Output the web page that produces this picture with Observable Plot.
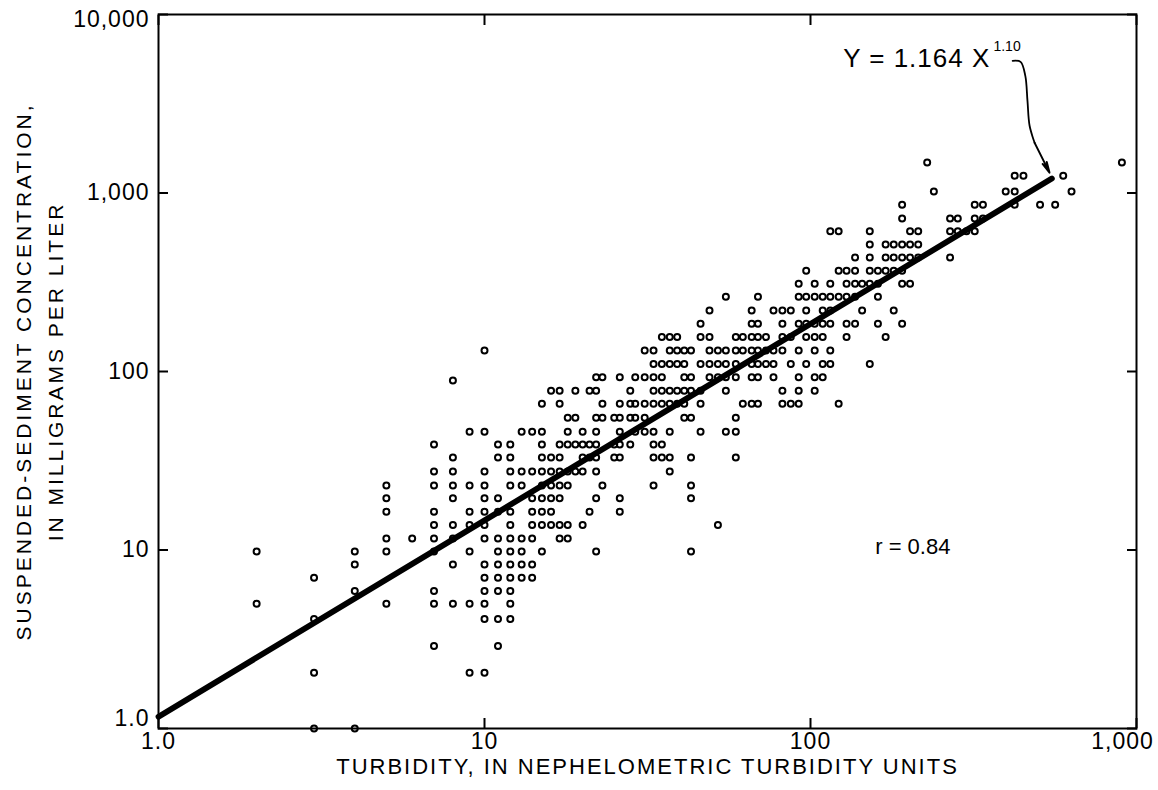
<!DOCTYPE html>
<html>
<head>
<meta charset="utf-8">
<script src="https://cdn.jsdelivr.net/npm/d3@7"></script>
<script src="https://cdn.jsdelivr.net/npm/@observablehq/plot@0.6"></script>
<style>
  html, body { margin: 0; padding: 0; background: #ffffff; }
  #chart svg { display: block; }
</style>
</head>
<body>
<div id="chart"></div>
<script>
// Turbidity columns (NTU) and the suspended-sediment concentrations (mg/L) plotted at each
const turbidityNTU = [2,3,4,5,6,7,8,9,10,11,12,13,14,15,16,17,18,19,20,21,22,23,25,26,28,29,31,33,35,37,39,41,43,46,49,52,55,59,62,66,69,73,77,82,87,92,97,103,109,115,122,129,137,144,152,161,170,180,191,202,214,228,239,268,283,301,319,338,397,423,450,506,563,596,632,902];
const concentrationMgL = [
  [9.8, 5],
  [7, 4.1, 2.05, 1],
  [9.8, 8.3, 5.9, 1],
  [23, 19.5, 16.4, 11.6, 9.8, 5],
  [11.6],
  [39, 27.5, 23, 16.4, 13.8, 11.6, 9.8, 5.9, 5, 2.9],
  [89, 33, 27.5, 23, 19.5, 13.8, 11.6, 8.3, 5],
  [46, 23, 16.4, 13.8, 9.8, 5, 2.05],
  [131, 46, 27.5, 23, 19.5, 16.4, 13.8, 11.6, 8.3, 7, 5.9, 5, 4.1, 2.05],
  [39, 33, 19.5, 16.4, 11.6, 9.8, 8.3, 7, 5.9, 4.1, 2.9],
  [39, 33, 27.5, 23, 16.4, 13.8, 11.6, 9.8, 8.3, 7, 5.9, 5, 4.1],
  [46, 27.5, 23, 11.6, 9.8, 8.3, 7],
  [46, 27.5, 19.5, 16.4, 13.8, 11.6, 8.3, 7],
  [66, 46, 39, 33, 27.5, 23, 19.5, 16.4, 13.8, 9.8],
  [78, 33, 27.5, 23, 19.5, 16.4, 13.8],
  [78, 66, 39, 33, 27.5, 23, 19.5, 13.8, 11.6],
  [55, 46, 39, 27.5, 23, 13.8, 11.6],
  [78, 55, 39, 27.5],
  [46, 39, 33, 27.5, 13.8],
  [78, 39, 33, 16.4],
  [93, 78, 55, 46, 39, 33, 27.5, 19.5, 9.8],
  [93, 66, 55, 23],
  [55, 39, 33],
  [93, 66, 55, 46, 39, 33, 19.5, 16.4],
  [78, 66, 55, 39],
  [93, 66, 55, 46],
  [131, 93, 66, 55, 46],
  [131, 110, 93, 78, 66, 46, 39, 33, 23],
  [156, 110, 93, 78, 66, 39, 33],
  [156, 131, 110, 78, 66, 46, 33, 27.5],
  [156, 131, 110, 78, 66],
  [131, 110, 93, 78, 66, 55],
  [131, 93, 78, 55, 33, 23, 19.5, 9.8],
  [185, 156, 110, 78, 66, 46],
  [220, 156, 131, 110, 93],
  [131, 110, 93, 13.8],
  [262, 131, 110, 93, 78, 46],
  [156, 131, 110, 93, 55, 46, 33],
  [156, 131, 66],
  [220, 185, 156, 131, 110, 93, 66],
  [262, 185, 156, 131, 110, 93, 66],
  [156, 131, 110],
  [220, 131, 110, 93],
  [220, 185, 156, 131, 78, 66],
  [220, 156, 110, 66],
  [310, 262, 185, 131, 93, 78, 66],
  [367, 262, 220, 185, 156, 110],
  [310, 262, 185, 156, 131, 93, 78],
  [262, 220, 185, 156, 110, 93],
  [610, 310, 262, 220, 185, 131, 110],
  [610, 367, 262, 66],
  [367, 310, 262, 185, 156],
  [435, 367, 310, 262, 185],
  [310, 220],
  [610, 515, 435, 367, 310, 110],
  [367, 310, 262, 185],
  [515, 435, 367, 156],
  [515, 435, 367, 220],
  [860, 720, 515, 435, 367, 310, 185],
  [610, 515, 435, 310],
  [610, 515, 435],
  [1480],
  [1020],
  [720, 610, 435],
  [720, 610],
  [610],
  [860, 720, 610],
  [860, 720],
  [1020],
  [1250, 1020, 860],
  [1250],
  [860],
  [860],
  [1250],
  [1020],
  [1480]
];

// Axis ticks and labels
const xTickValues = [1, 10, 100, 1000];
const xTickLabels = ["1.0", "10", "100", "1,000"];
const yTickValues = [1, 10, 100, 1000, 10000];
const yTickLabels = ["1.0", "10", "100", "1,000", "10,000"];

// Fitted regression line end points, Y = 1.164 X^1.10
const fitTurbidity = [1, 550];
const fitConcentration = [1.164, 1204];

// Annotations (positions in data units)
const equationBase = "Y = 1.164 X";
const equationExponent = "1.10";
const equationAnchor = { x: 356, y: 5640 };
const exponentAnchor = { x: 364, y: 6600 };
const leaderX = [417, 441, 456, 463, 470, 487];
const leaderY = [5500, 5430, 4530, 3280, 2380, 1910];
const leaderTip = { x: 541, y: 1300 };
const rLabel = "r = 0.84";
const rAnchor = { x: 206, y: 10.4 };
const xTitle = "TURBIDITY, IN NEPHELOMETRIC TURBIDITY UNITS";
const yTitleLines = ["SUSPENDED-SEDIMENT CONCENTRATION,", "IN MILLIGRAMS PER LITER"];

const samples = turbidityNTU.flatMap((t, i) => concentrationMgL[i].map(c => ({ t, c })));
const fitLine = fitTurbidity.map((t, i) => ({ t, c: fitConcentration[i] }));
const leader = leaderX.map((x, i) => ({ x, y: leaderY[i] }));
const leaderStart = leader[leader.length - 1];

const FONT = "'Liberation Sans', Arial, Helvetica, sans-serif";
const FS = 23;
const xFmt = d => xTickLabels[xTickValues.indexOf(d)];
const yFmt = d => yTickLabels[yTickValues.indexOf(d)];
const blank = () => "";

const chart = Plot.plot({
  width: 1158,
  height: 790,
  marginLeft: 158,
  marginRight: 22,
  marginTop: 14,
  marginBottom: 62,
  style: { fontFamily: FONT, fontSize: FS + "px", color: "#000", background: "#fff", overflow: "visible" },
  x: { type: "log", domain: [1, 1000] },
  y: { type: "log", domain: [1, 10000] },
  marks: [
    Plot.frame({ stroke: "#000", strokeWidth: 2 }),
    // inward ticks on all four sides
    Plot.axisX({ anchor: "bottom", ticks: xTickValues, tickFormat: blank, tickSize: -10, strokeWidth: 2, label: null }),
    Plot.axisX({ anchor: "top", ticks: xTickValues, tickFormat: blank, tickSize: -10, strokeWidth: 2, label: null }),
    Plot.axisY({ anchor: "left", ticks: yTickValues, tickFormat: blank, tickSize: -10, strokeWidth: 2, label: null }),
    Plot.axisY({ anchor: "right", ticks: yTickValues, tickFormat: blank, tickSize: -10, strokeWidth: 2, label: null }),
    // tick labels
    Plot.text(xTickValues.slice(0, 3), { x: d => d, frameAnchor: "bottom", lineAnchor: "top", dy: 4, text: xFmt, fontSize: FS }),
    Plot.text(xTickValues.slice(3), { x: d => d, frameAnchor: "bottom", lineAnchor: "top", dy: 4, dx: -14, text: xFmt, fontSize: FS }),
    Plot.text(yTickValues.slice(1, 4), { y: d => d, frameAnchor: "left", textAnchor: "end", dx: -9, text: yFmt, fontSize: FS }),
    Plot.text(yTickValues.slice(0, 1), { y: d => d, frameAnchor: "left", textAnchor: "end", dx: -9, dy: -10, text: yFmt, fontSize: FS }),
    Plot.text(yTickValues.slice(4), { y: d => d, frameAnchor: "left", textAnchor: "end", dx: -9, dy: 5, text: yFmt, fontSize: FS }),
    // data
    Plot.line(fitLine, { x: "t", y: "c", stroke: "#000", strokeWidth: 5.8 }),
    Plot.dot(samples, { x: "t", y: "c", r: 3, stroke: "#000", strokeWidth: 2, fill: "none" }),
    // annotations
    Plot.text([equationBase], { x: () => equationAnchor.x, y: () => equationAnchor.y, text: d => d, textAnchor: "end", fontSize: 26 }),
    Plot.text([equationExponent], { x: () => exponentAnchor.x, y: () => exponentAnchor.y, text: d => d, textAnchor: "start", fontSize: 14 }),
    Plot.line(leader, { x: "x", y: "y", stroke: "#000", strokeWidth: 1.8, curve: "catmull-rom" }),
    Plot.arrow([leaderTip], { x1: () => leaderStart.x, y1: () => leaderStart.y, x2: d => d.x, y2: d => d.y, stroke: "#000", strokeWidth: 2, headLength: 14, headAngle: 24 }),
    Plot.text([rLabel], { x: () => rAnchor.x, y: () => rAnchor.y, text: d => d, fontSize: 22 }),
    Plot.text([xTitle], { frameAnchor: "bottom", dy: 45, text: d => d, fontSize: 22 }),
    Plot.text([yTitleLines[0]], { frameAnchor: "left", textAnchor: "middle", dx: -134, rotate: -90, text: d => d, fontSize: 21 }),
    Plot.text([yTitleLines[1]], { frameAnchor: "left", textAnchor: "middle", dx: -102, rotate: -90, text: d => d, fontSize: 21 })
  ]
});

// letter spacing of the lettering (wide-tracked in the original figure)
const tracking = new Map([
  [xTitle, "2px"],
  [yTitleLines[0], "3px"],
  [yTitleLines[1], "3px"],
  [equationBase, "1px"]
]);
xTickLabels.concat(yTickLabels).forEach(t => tracking.set(t, "1px"));
d3.select(chart).selectAll("text").each(function () {
  const s = tracking.get(this.textContent);
  if (s) this.style.letterSpacing = s;
});

document.getElementById("chart").appendChild(chart);
</script>
</body>
</html>
